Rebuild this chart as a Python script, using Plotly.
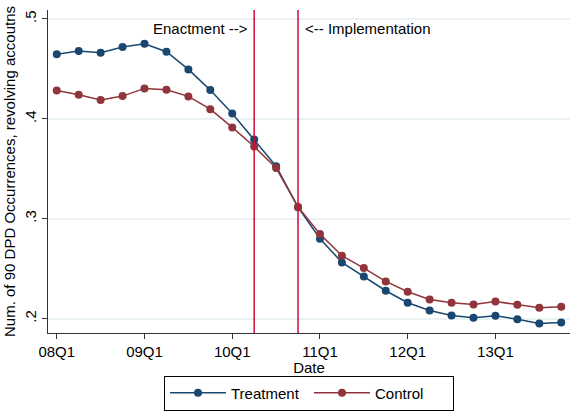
import plotly.graph_objects as go

quarters = ["08Q1", "08Q2", "08Q3", "08Q4", "09Q1", "09Q2", "09Q3", "09Q4",
            "10Q1", "10Q2", "10Q3", "10Q4", "11Q1", "11Q2", "11Q3", "11Q4",
            "12Q1", "12Q2", "12Q3", "12Q4", "13Q1", "13Q2", "13Q3", "13Q4"]
treatment = [0.4646, 0.4679, 0.4662, 0.4719, 0.4752, 0.4672, 0.4495, 0.4288,
             0.4054, 0.3793, 0.3526, 0.3116, 0.2800, 0.2563, 0.2422, 0.2279,
             0.2159, 0.2081, 0.2031, 0.2008, 0.2028, 0.1994, 0.1951, 0.1961]
control = [0.4285, 0.4241, 0.4188, 0.4228, 0.4305, 0.4291, 0.4225, 0.4097,
           0.3914, 0.3723, 0.3509, 0.3117, 0.2847, 0.2630, 0.2506, 0.2372,
           0.2269, 0.2191, 0.2159, 0.2141, 0.2171, 0.2138, 0.2108, 0.2118]
xtick_labels = ["08Q1", "09Q1", "10Q1", "11Q1", "12Q1", "13Q1"]
ytick_vals = [0.2, 0.3, 0.4, 0.5]
ytick_text = [".2", ".3", ".4", ".5"]
enact_q = "10Q2"
impl_q = "10Q4"

x = list(range(len(quarters)))
FONT = "Liberation Sans, Arial, sans-serif"
FS = 15
NAVY = "#1a476f"
MAROON = "#90353b"
RED = "#d10a37"

fig = go.Figure()
fig.add_trace(go.Scatter(x=x, y=treatment, mode="lines+markers", name="Treatment",
                         line=dict(color=NAVY, width=1.5),
                         marker=dict(color=NAVY, size=8)))
fig.add_trace(go.Scatter(x=x, y=control, mode="lines+markers", name="Control",
                         line=dict(color=MAROON, width=1.5),
                         marker=dict(color=MAROON, size=8)))

for q in (enact_q, impl_q):
    fig.add_shape(type="line", xref="x", yref="paper", x0=quarters.index(q), x1=quarters.index(q),
                  y0=0, y1=1, line=dict(color=RED, width=1.5), layer="above")

fig.add_annotation(x=quarters.index(enact_q), y=1, xref="x", yref="paper",
                   text="Enactment -->", showarrow=False, xanchor="right", yanchor="top",
                   xshift=-4, yshift=-8, font=dict(family=FONT, size=FS, color="black"))
fig.add_annotation(x=quarters.index(impl_q), y=1, xref="x", yref="paper",
                   text="<-- Implementation", showarrow=False, xanchor="left", yanchor="top",
                   xshift=5, yshift=-8, font=dict(family=FONT, size=FS, color="black"))

fig.update_layout(
    width=571, height=412,
    margin=dict(l=48, r=1, t=10, b=79, autoexpand=False),
    paper_bgcolor="white", plot_bgcolor="white",
    font=dict(family=FONT, size=FS, color="black"),
    showlegend=True,
    legend=dict(orientation="h", x=0.5, xanchor="center", xref="paper",
                y=1.5 / 412, yanchor="bottom", yref="container",
                bordercolor="black", borderwidth=1, itemwidth=56, entrywidth=73,
                font=dict(family=FONT, size=FS, color="black")),
    xaxis=dict(range=[-0.4, 23.4], tickvals=[quarters.index(q) for q in xtick_labels],
               ticktext=xtick_labels, ticks="outside", ticklen=5, tickcolor="#333",
               showline=True, linecolor="#333", linewidth=1, showgrid=False, zeroline=False,
               title=dict(text="Date", standoff=0, font=dict(size=FS))),
    yaxis=dict(range=[0.1856, 0.509], tickvals=ytick_vals, ticktext=ytick_text,
               tickangle=-90, ticks="outside", ticklen=5, tickcolor="#333",
               showline=True, linecolor="#333", linewidth=1, showgrid=True,
               gridcolor="#eaf2f3", gridwidth=1.5, zeroline=False,
               title=dict(text="Num. of 90 DPD Occurrences, revolving accoutns", standoff=2,
                          font=dict(size=FS))),
)

fig.write_html("out.html")
